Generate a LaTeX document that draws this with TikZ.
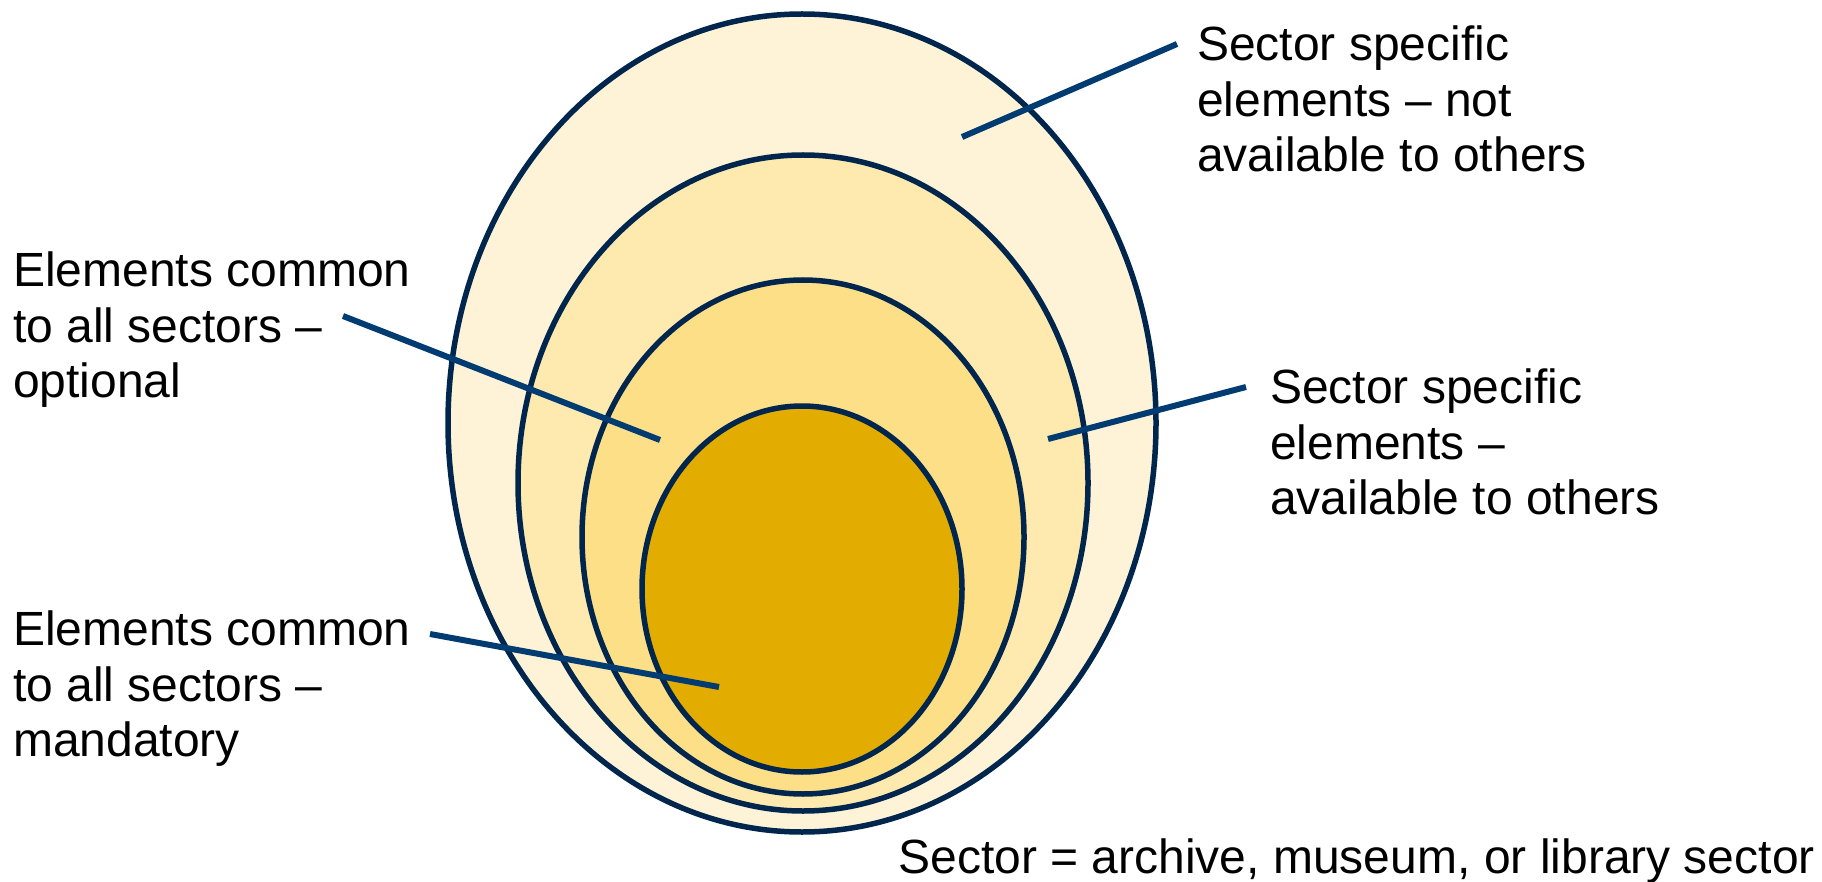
\documentclass[tikz,border=0pt]{standalone}
\usepackage{fontspec}
\setmainfont{Liberation Sans}
\usetikzlibrary{shapes.geometric}
\definecolor{ring1}{HTML}{FEF3D7}
\definecolor{ring2}{HTML}{FEE9AE}
\definecolor{ring3}{HTML}{FDDF88}
\definecolor{ring4}{HTML}{E2AD00}
\definecolor{rimcol}{HTML}{00264D}
\definecolor{leadcol}{HTML}{003C71}
\tikzset{
  ring/.style={ellipse, draw=rimcol, line width=5.5pt, inner sep=0pt},
  lbl/.style={anchor=west, align=left, inner sep=0pt, font=\fontsize{48}{55.5}\selectfont},
  lead/.style={draw=leadcol, line width=6pt}
}
\begin{document}
\begin{tikzpicture}[x=1pt,y=-1pt]
\useasboundingbox (0,0) rectangle (1822,882);
\node[ring, fill=ring1, minimum width=708pt, minimum height=818pt] (e1) at (802,423) {};
\node[ring, fill=ring2, minimum width=570pt, minimum height=656pt] (e2) at (803,483) {};
\node[ring, fill=ring3, minimum width=442pt, minimum height=514pt] (e3) at (803,537) {};
\node[ring, fill=ring4, minimum width=320pt, minimum height=366pt] (e4) at (802,589) {};

\node[lbl] (tr) at (1197,99) {Sector specific\\elements -- not\\available to others};
\node[lbl] (mr) at (1270,442) {Sector specific\\elements --\\available to others};
\node[lbl] (lo) at (13,330) {Elements common\\to all sectors --\\optional};
\node[lbl] (lm) at (13,689) {Elements common\\to all sectors --\\mandatory};
\node[lbl, anchor=east] (note) at (1815,861) {Sector = archive, museum, or library sector};

\coordinate (trA) at (962,137);
\coordinate (trB) at (1177,44);
\coordinate (mrA) at (1048,439);
\coordinate (mrB) at (1246,387);
\coordinate (loA) at (343,316);
\coordinate (loB) at (660,440);
\coordinate (lmA) at (430,634);
\coordinate (lmB) at (719,687);

\draw[lead] (trA) -- (trB);
\draw[lead] (mrA) -- (mrB);
\draw[lead] (loA) -- (loB);
\draw[lead] (lmA) -- (lmB);
\end{tikzpicture}
\end{document}
